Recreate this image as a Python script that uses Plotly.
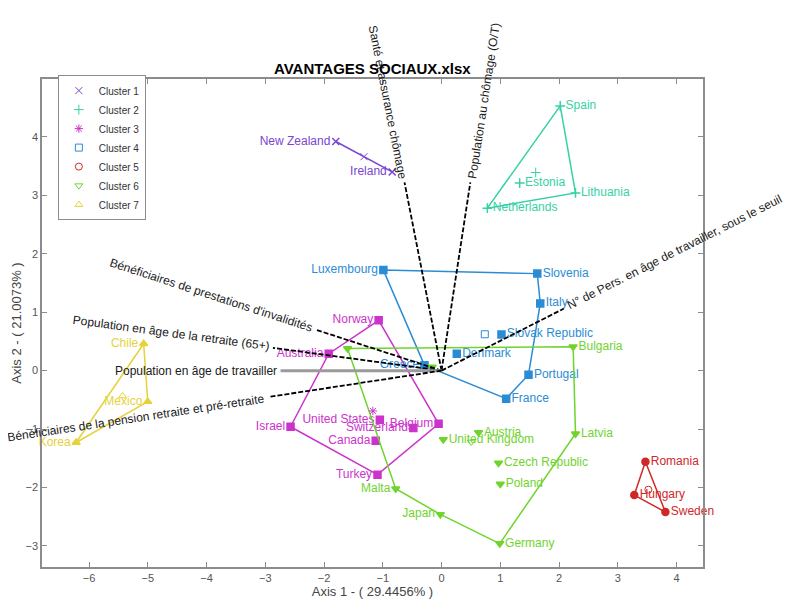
import math
import numpy as np
import plotly.graph_objs as go

# individuals (countries) on the first two factorial axes
pays = ['New Zealand', 'Ireland',
        'Spain', 'Lithuania', 'Netherlands', 'Estonia',
        'Norway', 'Australia', 'Israel', 'Turkey', 'Belgium', 'United States', 'Canada', 'Switzerland',
        'Luxembourg', 'Slovenia', 'Italy', 'Slovak Republic', 'Denmark', 'Portugal', 'France', 'Greece',
        'Romania', 'Hungary', 'Sweden',
        'Bulgaria', 'Latvia', 'Austria', 'United Kingdom', 'Czech Republic', 'Poland', 'Germany', 'Japan', 'Malta', '', '',
        'Chile', 'Mexico', 'Korea']
axe1 = [-1.80, -0.84,
        2.02, 2.28, 0.78, 1.33,
        -1.07, -1.92, -2.57, -1.09, -0.05, -1.05, -1.12, -0.48,
        -0.99, 1.63, 1.68, 1.02, 0.26, 1.48, 1.10, -0.29,
        3.47, 3.28, 3.81,
        2.24, 2.28, 0.63, 0.03, 0.97, 1.00, 0.99, -0.02, -0.78, -1.60, -0.16,
        -5.07, -5.00, -6.22]
axe2 = [3.92, 3.40,
        4.53, 3.04, 2.78, 3.21,
        0.86, 0.29, -0.96, -1.78, -0.91, -0.84, -1.20, -0.98,
        1.72, 1.66, 1.15, 0.62, 0.29, -0.07, -0.48, 0.09,
        -1.56, -2.13, -2.42,
        0.41, -1.08, -1.06, -1.18, -1.58, -1.94, -2.96, -2.46, -2.02, 0.38, 0.06,
        0.46, -0.53, -1.23]
cluster = [1, 1,
           2, 2, 2, 2,
           3, 3, 3, 3, 3, 3, 3, 3,
           4, 4, 4, 4, 4, 4, 4, 4,
           5, 5, 5,
           6, 6, 6, 6, 6, 6, 6, 6, 6, 6, 6,
           7, 7, 7]

# variables (arrows of the biplot)
variables = ['Santé et assurance chômage',
             'Population au chômage (O/T)',
             'N° de Pers. en âge de travailler, sous le seuil',
             "Bénéficiaires de prestations d'invalidités",
             'Population en âge de la retraite (65+)',
             'Population en âge de travailler',
             'Bénéficiaires de la pension retraite et pré-retraite']
var_x = [-0.63, 0.49, 2.08, -2.14, -2.87, -2.74, -2.94]
var_y = [3.22, 3.22, 1.06, 0.70, 0.39, 0.00, -0.45]

colors = {1: '#7B45D0', 2: '#36D1A6', 3: '#CC33CC', 4: '#2B8CD6',
          5: '#D02828', 6: '#6FD42E', 7: '#E6D23A'}
point_symbols = {1: 'x-thin', 2: 'cross-thin', 3: 'square', 4: 'square',
                 5: 'circle', 6: 'triangle-down', 7: 'triangle-up'}
centre_symbols = {1: 'x-thin', 2: 'cross-thin', 3: 'asterisk', 4: 'square-open',
                  5: 'circle-open', 6: 'triangle-down-open', 7: 'triangle-up-open'}

# the page body has an 8px margin, so the figure is a little smaller than the window
W, H = 789, 599
margin = dict(l=34, r=94, t=71, b=40)
xr = [-6.8, 4.45]
yr = [-3.36, 4.99]
sx = (W - margin['l'] - margin['r']) / (xr[1] - xr[0])
sy = (H - margin['t'] - margin['b']) / (yr[1] - yr[0])
lab_size = 12     # font of the arrow labels
lab_h = 16        # approx. box height of those labels, px


def convex_hull(pts):
    pts = sorted(set(pts))
    if len(pts) < 3:
        return pts

    def cross(o, a, b):
        return (a[0] - o[0]) * (b[1] - o[1]) - (a[1] - o[1]) * (b[0] - o[0])
    lower, upper = [], []
    for p in pts:
        while len(lower) >= 2 and cross(lower[-2], lower[-1], p) <= 0:
            lower.pop()
        lower.append(p)
    for p in reversed(pts):
        while len(upper) >= 2 and cross(upper[-2], upper[-1], p) <= 0:
            upper.pop()
        upper.append(p)
    return lower[:-1] + upper[:-1]


fig = go.Figure()

x_all = np.array(axe1)
y_all = np.array(axe2)
c_all = np.array(cluster)
n_all = np.array(pays, dtype=object)

#hull lines + points for each cluster
for k in range(1, 8):
    m = c_all == k
    xs, ys = x_all[m], y_all[m]
    h = convex_hull(list(zip(xs, ys)))
    if len(h) > 2:
        h = h + [h[0]]
    fig.add_trace(go.Scatter(
        x=[p[0] for p in h], y=[p[1] for p in h], mode='lines',
        line=dict(color=colors[k], width=1.5), showlegend=False, hoverinfo='skip'))
    fig.add_trace(go.Scatter(
        x=xs, y=ys, mode='markers+text', text=list(n_all[m]),
        textposition=['middle left' if v < 0 else 'middle right' for v in xs],
        textfont=dict(color=colors[k], size=12, family='Liberation Sans, Arial'),
        marker=dict(symbol=point_symbols[k], size=7, color=colors[k],
                    line=dict(color=colors[k], width=1.5)),
        cliponaxis=False, showlegend=False))

#variable arrows
for name, vx, vy in zip(variables, var_x, var_y):
    gray = name == 'Population en âge de travailler'
    fig.add_trace(go.Scatter(
        x=[0, vx], y=[0, vy], mode='lines',
        line=dict(color='#9a9a9a' if gray else 'black', width=3 if gray else 1.8,
                  dash='solid' if gray else '5px,2px'),
        showlegend=False, hoverinfo='skip'))
    px, py = vx * sx, -vy * sy
    L = math.hypot(px, py)
    ux, uy = px / L, py / L
    ex, ey = -ux, -uy   # from the text centre towards the arrow tip
    ang = math.degrees(math.atan2(py, px))
    if px < 0:
        ang = ang + 180
        if ang > 180:
            ang -= 360
    # bbox corner sits at the tip; move it so the text mid-line ends at the tip
    dx = math.copysign(lab_h / 2 * abs(ey), ex) + 2 * ux
    dy = math.copysign(lab_h / 2 * abs(ex), ey) if abs(ey) > 0.05 else 0
    dy += 2 * uy
    fig.add_annotation(
        x=vx, y=vy, text=name, showarrow=False, textangle=ang,
        xanchor='left' if ux > 0.05 else ('right' if ux < -0.05 else 'center'),
        yanchor='top' if uy > 0.05 else ('bottom' if uy < -0.05 else 'middle'),
        xshift=dx, yshift=-dy,
        font=dict(size=lab_size, color='#1a1a1a', family='Liberation Sans, Arial'))

#cluster centres (legend entries)
for k in range(1, 8):
    m = c_all == k
    fig.add_trace(go.Scatter(
        x=[x_all[m].mean()], y=[y_all[m].mean()], mode='markers',
        name='Cluster %d' % k,
        marker=dict(symbol=centre_symbols[k], size=7, color=colors[k],
                    line=dict(color=colors[k], width=1))))

axis_style = dict(showline=True, linecolor='#8c8c8c', linewidth=1.5, mirror='ticks',
                  ticks='inside', ticklen=5, tickcolor='#8c8c8c', showgrid=False,
                  zeroline=False, tickfont=dict(size=11, color='#555555'),
                  dtick=1, automargin=False)

fig.add_annotation(
    text='<b>AVANTAGES SOCIAUX.xlsx</b>', x=0.5, xref='paper', y=1, yref='paper',
    xanchor='center', yanchor='bottom', yshift=0, showarrow=False,
    font=dict(size=15, color='black', family='Liberation Sans, Arial'))

fig.update_layout(
    width=W, height=H, margin=margin,
    paper_bgcolor='white', plot_bgcolor='white',
    font=dict(family='Liberation Sans, Arial', color='#333333'),
    xaxis=dict(range=xr, title=dict(text='Axis 1 - ( 29.4456% )', standoff=4,
                                    font=dict(size=13, color='#444444')), **axis_style),
    yaxis=dict(range=yr, title=dict(text='Axis 2 - ( 21.0073% )', standoff=1,
                                    font=dict(size=13, color='#444444')), **axis_style),
    legend=dict(x=0.024, y=1.008, xanchor='left', yanchor='top',
                bgcolor='white', bordercolor='#8c8c8c', borderwidth=1,
                font=dict(size=10, color='#333333'), tracegroupgap=0,
                itemwidth=30),
)

fig.write_html("out.html")
